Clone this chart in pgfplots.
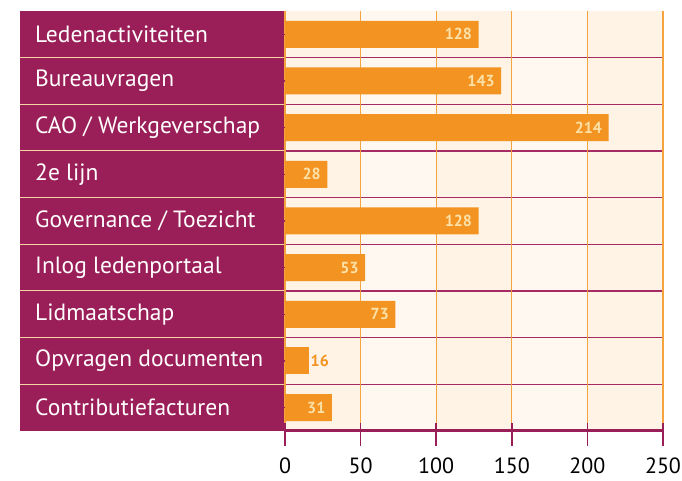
\documentclass[border=0pt]{standalone}
\usepackage{pgfplots}
\pgfplotsset{compat=1.18}
\usepackage{fontspec}
\setmainfont{PT Sans}
\definecolor{plum}{HTML}{9A1E57}
\definecolor{barorange}{HTML}{F39322}
\definecolor{bgdark}{HTML}{FEF3E4}
\definecolor{bglight}{HTML}{FEF8F1}
\definecolor{gridorange}{HTML}{F5A33F}
\definecolor{sepcream}{HTML}{F3D6A2}
\definecolor{valcream}{HTML}{FCE2A8}
\definecolor{rowline}{HTML}{A62B64}
\begin{document}
\begin{tikzpicture}
\begin{axis}[
  set layers,
  /pgf/number format/assume math mode=true,
  scale only axis, width=378pt, height=420pt,
  xbar, bar width=27pt, bar shift=0pt,
  xmin=0, xmax=250, ymin=-0.5, ymax=8.5,
  xtick={0,50,...,250}, ytick={0,...,8},
  yticklabels={Contributiefacturen, Opvragen documenten, Lidmaatschap, Inlog ledenportaal, Governance / Toezicht, 2e lijn, CAO / Werkgeverschap, Bureauvragen, Ledenactiviteiten},
  axis line style={draw=none},
  xtick pos=left, ytick pos=left,
  tick align=outside, major tick length=15pt,
  every tick/.style={plum, line width=1.6pt},
  xmajorgrids, ymajorgrids=false,
  grid style={gridorange, line width=1.2pt},
  xticklabel style={font=\fontsize{22}{24}\selectfont, text=black, yshift=-11pt, inner sep=1pt},
  yticklabel style={anchor=west, xshift=-235pt, inner sep=0pt, font=\fontsize{23.5}{26}\selectfont, text=white},
  clip=false,
  point meta=x,
]
\begin{pgfonlayer}{axis background}
\fill[bgdark] (axis cs:0,-0.5) rectangle (axis cs:250,8.5);
\fill[bglight] (axis cs:50,-0.5) rectangle (axis cs:100,8.5);
\fill[bglight] (axis cs:150,-0.5) rectangle (axis cs:200,8.5);
\fill[plum] ([xshift=-265pt]axis cs:0,-0.5) rectangle (axis cs:0,8.5);
\pgfplotsinvokeforeach{0.5,1.5,...,7.5}{
  \draw[sepcream, line width=1pt] ([xshift=-265pt]axis cs:0,#1) -- (axis cs:0,#1);
  \draw[rowline, line width=1.5pt] (axis cs:0,#1) -- (axis cs:250,#1);
}
\end{pgfonlayer}
\begin{pgfonlayer}{axis foreground}
\draw[plum, line width=3pt] (axis description cs:0,0) -- (axis description cs:1,0);
\pgfplotsinvokeforeach{0,50,...,250}{
  \draw[plum, line width=1.6pt] (axis cs:#1,-0.5) -- ++(0,-15pt);
}
\end{pgfonlayer}
\addplot[fill=barorange, draw=none, nodes near coords,
  every node near coord/.append style={anchor=east, text=valcream, font=\bfseries\fontsize{16}{17}\selectfont, xshift=-3pt}]
  coordinates {(128,8) (143,7) (214,6) (28,5) (128,4) (53,3) (73,2) (31,0)};
\addplot[fill=barorange, draw=none, nodes near coords,
  every node near coord/.append style={anchor=west, text=barorange, font=\bfseries\fontsize{16}{17}\selectfont, xshift=-2pt}]
  coordinates {(16,1)};
\path ([xshift=-285pt,yshift=-50pt]axis description cs:0,0) rectangle ([xshift=19pt,yshift=11pt]axis description cs:1,1);
\end{axis}
\end{tikzpicture}
\end{document}
